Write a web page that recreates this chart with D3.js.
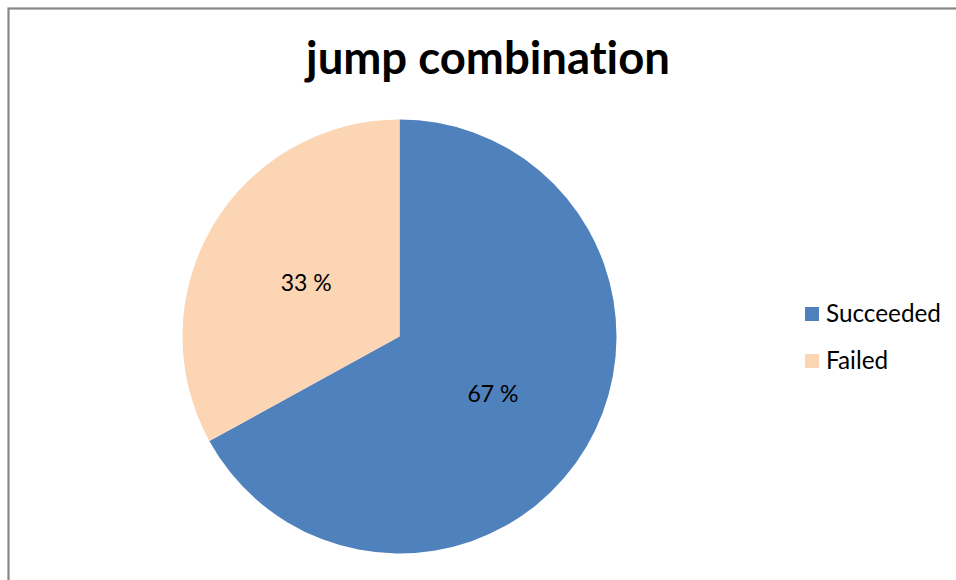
<!DOCTYPE html>
<html>
<head>
<meta charset="utf-8">
<script src="https://cdn.jsdelivr.net/npm/d3@7"></script>
<style>
  html, body { margin: 0; padding: 0; background: #fff; }
  svg { display: block; }
  text { font-family: Lato, "Open Sans", sans-serif; font-variant-ligatures: none; font-feature-settings: "liga" 0, "dlig" 0; }
</style>
</head>
<body>
<svg id="chart" width="956" height="580"></svg>
<script>
// Chart content
const title = "jump combination";
const categories = ["Succeeded", "Failed"];
const values = [67, 33];
const labels = ["67 %", "33 %"];
const colors = ["#4F81BD", "#FCD5B5"];

const W = 956, H = 580;
const svg = d3.select("#chart");

// Scale a text element's font size so it spans the given width
function fitWidth(sel, width) {
  const node = sel.node();
  const fs = parseFloat(sel.attr("font-size"));
  const w = node.getComputedTextLength();
  sel.attr("font-size", fs * width / w);
}

// Outer frame
svg.append("rect")
  .attr("x", 8.5).attr("y", 8.5)
  .attr("width", W + 10).attr("height", H + 10)
  .attr("fill", "none")
  .attr("stroke", "#878787")
  .attr("stroke-width", 2.2);

// Title
const t = svg.append("text")
  .attr("x", 488).attr("y", 74)
  .attr("text-anchor", "middle")
  .attr("font-weight", "bold")
  .attr("font-size", 38)
  .attr("fill", "#000")
  .text(title);
fitWidth(t, 364);

// Pie
const cx = 399.5, cy = 336.5, r = 217;
const pie = d3.pie().sort(null).value(d => d.value);
const data = categories.map((c, i) => ({ name: c, value: values[i], label: labels[i], color: colors[i] }));
const arcs = pie(data);
const arc = d3.arc().innerRadius(0).outerRadius(r);

const g = svg.append("g").attr("transform", `translate(${cx},${cy})`);
g.selectAll("path.slice")
  .data(arcs)
  .join("path")
  .attr("class", "slice")
  .attr("d", arc)
  .attr("fill", d => d.data.color);

// Slice labels at the centroid
g.selectAll("text.lbl")
  .data(arcs)
  .join("text")
  .attr("class", "lbl")
  .attr("x", d => arc.centroid(d)[0])
  .attr("y", d => arc.centroid(d)[1] + 2)
  .attr("dy", "0.35em")
  .attr("text-anchor", "middle")
  .attr("font-size", 20)
  .attr("fill", "#000")
  .text(d => d.data.label)
  .each(function () { fitWidth(d3.select(this), 51); });

// Legend
const leg = svg.append("g").attr("transform", "translate(805,0)");
const legY = d3.scalePoint().domain(categories).range([322, 369]);
categories.forEach((c, i) => {
  leg.append("rect")
    .attr("x", 0).attr("y", legY(c) - 15)
    .attr("width", 14).attr("height", 14)
    .attr("fill", colors[i]);
  const lt = leg.append("text")
    .attr("x", 21).attr("y", legY(c))
    .attr("font-size", 22)
    .attr("fill", "#000")
    .text(c);
  if (i === 0) fitWidth(lt, 115);
});
// Match the second legend entry's size to the first
const fsLeg = leg.select("text").attr("font-size");
leg.selectAll("text").attr("font-size", fsLeg);
</script>
</body>
</html>
